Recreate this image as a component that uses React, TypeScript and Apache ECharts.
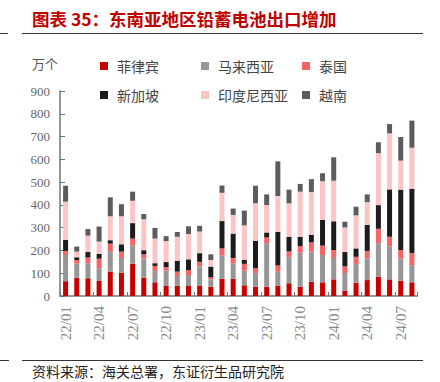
import React, { useEffect, useRef } from "react";
import * as echarts from "echarts";

const months = [
  "22/01", "22/02", "22/03", "22/04", "22/05", "22/06", "22/07", "22/08", "22/09", "22/10", "22/11", "22/12",
  "23/01", "23/02", "23/03", "23/04", "23/05", "23/06", "23/07", "23/08", "23/09", "23/10", "23/11", "23/12",
  "24/01", "24/02", "24/03", "24/04", "24/05", "24/06", "24/07", "24/08",
];

const philippines = [65, 80, 78, 66, 107, 102, 142, 80, 60, 44, 45, 44, 44, 41, 75, 75, 47, 41, 41, 45, 56, 41, 63, 60, 73, 22, 58, 70, 85, 73, 67, 60];
const malaysia = [115, 63, 66, 56, 90, 65, 79, 85, 50, 67, 43, 48, 85, 32, 102, 67, 66, 59, 191, 61, 114, 149, 132, 120, 94, 79, 82, 95, 147, 145, 97, 75];
const thailand = [18, 15, 25, 42, 33, 28, 31, 18, 22, 16, 19, 22, 21, 9, 32, 25, 28, 22, 25, 28, 26, 29, 40, 41, 35, 29, 32, 33, 63, 42, 38, 54];
const singapore = [48, 12, 24, 21, 15, 32, 68, 18, 12, 22, 48, 47, 38, 47, 120, 107, 18, 121, 22, 148, 64, 41, 34, 113, 126, 63, 37, 114, 104, 208, 265, 282];
const indonesia = [168, 25, 72, 54, 105, 123, 98, 136, 108, 92, 105, 111, 95, 29, 124, 82, 151, 164, 120, 157, 147, 198, 187, 170, 178, 108, 145, 100, 228, 246, 127, 180];
const vietnam = [70, 22, 29, 66, 83, 53, 40, 23, 47, 22, 21, 34, 25, 25, 32, 28, 65, 77, 47, 152, 60, 34, 57, 35, 103, 25, 38, 34, 48, 41, 104, 119];

const seriesNames = ["菲律宾", "马来西亚", "泰国", "新加坡", "印度尼西亚", "越南"];
const seriesData = [philippines, malaysia, thailand, singapore, indonesia, vietnam];
const seriesColors = ["#c80000", "#969696", "#f86464", "#1c1c1c", "#fcc4c4", "#5c5c5c"];

const titleText = "图表 35：东南亚地区铅蓄电池出口增加";
const sourceText = "资料来源：海关总署，东证衍生品研究院";
const unitText = "万个";

const CJK = "'Noto Sans CJK SC', 'Noto Sans', sans-serif";
const SERIF = "'Liberation Serif', 'DejaVu Serif', serif";
const AXIS_COLOR = "#6b7676";

export default function App() {
  const ref = useRef<HTMLDivElement>(null);

  useEffect(() => {
    if (!ref.current) return;
    const chart = echarts.init(ref.current, null, { renderer: "svg" });

    const legendPos = [
      { left: 100, top: 58 },
      { left: 201, top: 58 },
      { left: 302, top: 58 },
      { left: 100, top: 87 },
      { left: 201, top: 87 },
      { left: 302, top: 87 },
    ];

    const option: any = {
      animation: false,
      backgroundColor: "#ffffff",
      grid: { left: 60, right: 22.5, top: 91, bottom: 86, containLabel: false },
      legend: seriesNames.map((name, i) => ({
        data: [name],
        left: legendPos[i].left,
        top: legendPos[i].top,
        padding: 0,
        icon: "rect",
        itemWidth: 8,
        itemHeight: 8,
        selectedMode: false,
        textStyle: {
          fontFamily: CJK,
          fontSize: 14,
          color: "#444",
          lineHeight: 16,
          padding: [0, 0, 0, 4],
        },
      })),
      xAxis: {
        type: "category",
        data: months,
        boundaryGap: true,
        axisLine: { show: true, lineStyle: { color: AXIS_COLOR, width: 1.5 } },
        axisTick: { show: true, inside: true, interval: 2, length: 4, lineStyle: { color: AXIS_COLOR } },
        axisLabel: {
          interval: 2,
          rotate: 90,
          fontFamily: SERIF,
          fontSize: 15,
          color: "#8a8a8a",
          margin: 10,
        },
        splitLine: { show: false },
      },
      yAxis: {
        type: "value",
        min: 0,
        max: 900,
        interval: 100,
        axisLine: { show: true, lineStyle: { color: AXIS_COLOR, width: 1.5 } },
        axisTick: { show: true, inside: true, length: 5, lineStyle: { color: AXIS_COLOR } },
        axisLabel: { fontFamily: SERIF, fontSize: 13, color: "#666", margin: 10 },
        splitLine: { show: false },
      },
      series: seriesNames.map((name, i) => ({
        name,
        type: "bar",
        stack: "total",
        data: seriesData[i],
        barWidth: 5,
        itemStyle: { color: seriesColors[i] },
      })),
      graphic: [
        {
          type: "text",
          left: 32,
          top: 10,
          style: { text: titleText, fontFamily: CJK, fontSize: 17.5, fontWeight: "bold", fill: "#c00000" },
        },
        { type: "line", shape: { x1: 0, y1: 33.5, x2: 8, y2: 33.5 }, style: { stroke: "#333", lineWidth: 1 } },
        { type: "line", shape: { x1: 22, y1: 33.5, x2: 423, y2: 33.5 }, style: { stroke: "#333", lineWidth: 1 } },
        {
          type: "text",
          left: 32,
          top: 57,
          style: { text: unitText, fontFamily: CJK, fontSize: 13, fill: "#555" },
        },
        { type: "line", shape: { x1: 0, y1: 360.5, x2: 9, y2: 360.5 }, style: { stroke: "#333", lineWidth: 1 } },
        { type: "line", shape: { x1: 22, y1: 360.5, x2: 423, y2: 360.5 }, style: { stroke: "#333", lineWidth: 1 } },
        {
          type: "text",
          left: 32,
          top: 364,
          style: { text: sourceText, fontFamily: CJK, fontSize: 14, fill: "#222" },
        },
      ],
    };

    chart.setOption(option);
    return () => chart.dispose();
  }, []);

  return (
    <div
      ref={ref}
      style={{ position: "fixed", left: 0, top: 0, width: 440, height: 382, background: "#fff" }}
    />
  );
}
